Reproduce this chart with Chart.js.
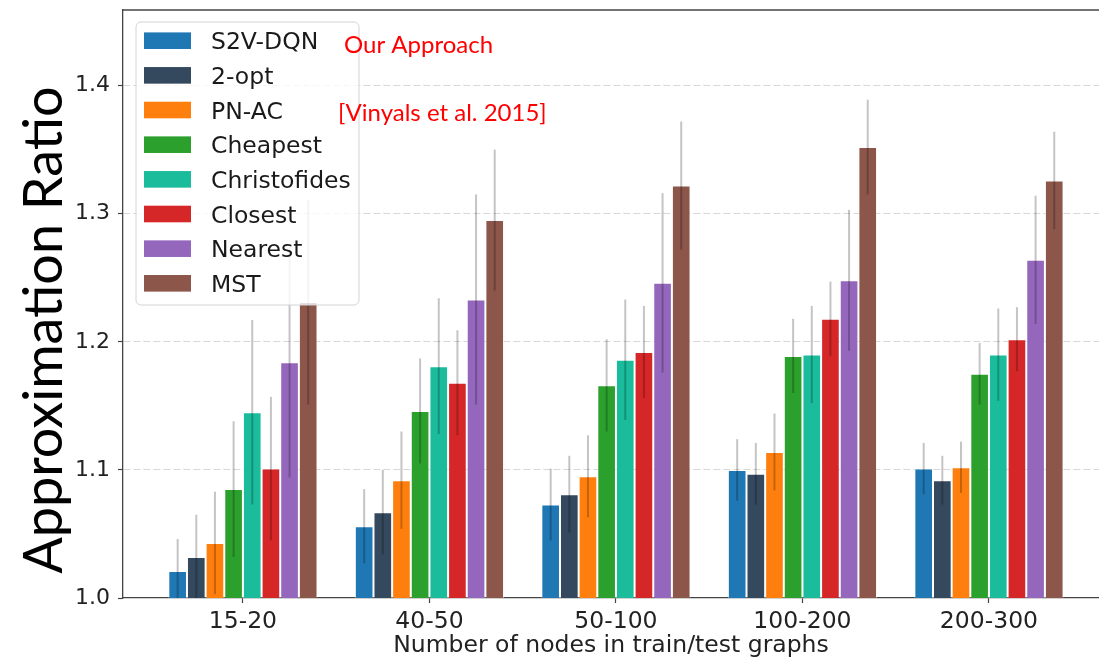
<!DOCTYPE html>
<html>
<head>
<meta charset="utf-8">
<script src="https://cdn.jsdelivr.net/npm/chart.js@4/dist/chart.umd.min.js"></script>
<style>
  html, body { margin: 0; padding: 0; background: #ffffff; overflow: hidden; }
  #c { display: block; }
</style>
</head>
<body>
<canvas id="c" width="1099" height="659"></canvas>
<script>
// Graph size buckets (x axis)
const categories = ['15-20', '40-50', '50-100', '100-200', '200-300'];

// Mean approximation ratio per method, one value per bucket
const s2vDqn       = [1.021, 1.056, 1.073, 1.100, 1.101];
const twoOpt       = [1.032, 1.067, 1.081, 1.097, 1.092];
const pnAc         = [1.043, 1.092, 1.095, 1.114, 1.102];
const cheapest     = [1.085, 1.146, 1.166, 1.189, 1.175];
const christofides = [1.145, 1.181, 1.186, 1.190, 1.190];
const closest      = [1.101, 1.168, 1.192, 1.218, 1.202];
const nearest      = [1.184, 1.233, 1.246, 1.248, 1.264];
const mst          = [1.231, 1.295, 1.322, 1.352, 1.326];

// Half-width of the error bar for each mean above
const s2vDqnErr       = [0.025, 0.029, 0.028, 0.024, 0.020];
const twoOptErr       = [0.033, 0.033, 0.030, 0.024, 0.019];
const pnAcErr         = [0.040, 0.038, 0.032, 0.030, 0.020];
const cheapestErr     = [0.053, 0.041, 0.036, 0.029, 0.024];
const christofidesErr = [0.072, 0.053, 0.047, 0.038, 0.036];
const closestErr      = [0.056, 0.041, 0.036, 0.029, 0.025];
const nearestErr      = [0.090, 0.082, 0.070, 0.055, 0.050];
const mstErr          = [0.080, 0.055, 0.050, 0.037, 0.038];

const methodNames = ['S2V-DQN', '2-opt', 'PN-AC', 'Cheapest', 'Christofides', 'Closest', 'Nearest', 'MST'];
const methodMeans = [s2vDqn, twoOpt, pnAc, cheapest, christofides, closest, nearest, mst];
const methodErrs  = [s2vDqnErr, twoOptErr, pnAcErr, cheapestErr, christofidesErr, closestErr, nearestErr, mstErr];
const methodColors = ['#1f77b4', '#34495e', '#ff7f0e', '#2ca02c', '#1abc9c', '#d62728', '#9467bd', '#8c564b'];

// Y axis tick range
const yMin = 1.0, yMax = 1.459, yStep = 0.1;

const tickFont = "'DejaVu Sans', sans-serif";
const noteFont = "Lato, 'Open Sans', sans-serif";

const datasets = methodNames.map((name, k) => ({
  label: name,
  data: methodMeans[k].map((v, i) => ({ x: i, y: v })),
  errors: methodErrs[k],
  backgroundColor: methodColors[k],
  borderColor: 'rgba(255,255,255,0.45)',
  borderWidth: 1,
  categoryPercentage: 0.8,
  barPercentage: 1.0
}));

// Vertical error lines through each bar
const errorBars = {
  id: 'errorBars',
  afterDatasetsDraw(chart) {
    const { ctx, chartArea: a, scales: { y } } = chart;
    ctx.save();
    ctx.beginPath();
    ctx.rect(a.left, a.top, a.right - a.left, a.bottom - a.top);
    ctx.clip();
    ctx.strokeStyle = 'rgba(0,0,0,0.23)';
    ctx.lineWidth = 2;
    chart.data.datasets.forEach((ds, k) => {
      const meta = chart.getDatasetMeta(k);
      meta.data.forEach((bar, i) => {
        const m = ds.data[i].y, e = ds.errors[i];
        ctx.beginPath();
        ctx.moveTo(bar.x, y.getPixelForValue(m + e));
        ctx.lineTo(bar.x, y.getPixelForValue(m - e));
        ctx.stroke();
      });
    });
    ctx.restore();
  }
};

// Top frame line, boxed legend, notes and the y axis title
const decorations = {
  id: 'decorations',
  afterDraw(chart) {
    const { ctx, chartArea: a } = chart;
    ctx.save();
    // top spine
    ctx.strokeStyle = '#444';
    ctx.lineWidth = 1.3;
    ctx.beginPath();
    ctx.moveTo(a.left, a.top);
    ctx.lineTo(a.right, a.top);
    ctx.stroke();

    // legend box
    const bx = 136, by = 22, bw = 223, bh = 283, r = 5;
    ctx.beginPath();
    ctx.moveTo(bx + r, by);
    ctx.arcTo(bx + bw, by, bx + bw, by + bh, r);
    ctx.arcTo(bx + bw, by + bh, bx, by + bh, r);
    ctx.arcTo(bx, by + bh, bx, by, r);
    ctx.arcTo(bx, by, bx + bw, by, r);
    ctx.closePath();
    ctx.fillStyle = 'rgba(255,255,255,0.8)';
    ctx.fill();
    ctx.strokeStyle = '#d4d4d4';
    ctx.lineWidth = 1;
    ctx.stroke();

    ctx.font = "23.5px " + tickFont;
    ctx.textAlign = 'left';
    ctx.textBaseline = 'alphabetic';
    chart.data.datasets.forEach((ds, k) => {
      const cy = 40.7 + k * 34.66;
      ctx.fillStyle = ds.backgroundColor;
      ctx.fillRect(144, cy - 8.3, 47, 16.6);
      ctx.fillStyle = '#1a1a1a';
      ctx.fillText(ds.label, 211, cy + 8.6);
    });

    // notes
    ctx.fillStyle = '#ff0000';
    ctx.font = "24px " + noteFont;
    ctx.fillText('Our Approach', 344, 53);
    ctx.fillText('[Vinyals et al. 2015]', 338, 121);

    // y axis title
    ctx.translate(45, 330);
    ctx.rotate(-Math.PI / 2);
    ctx.fillStyle = '#000';
    ctx.font = "54px " + noteFont;
    ctx.textAlign = 'center';
    ctx.textBaseline = 'middle';
    ctx.fillText('Approximation Ratio', 0, 0);
    ctx.restore();
  }
};

new Chart(document.getElementById('c'), {
  type: 'bar',
  data: { datasets },
  plugins: [errorBars, decorations],
  options: {
    responsive: false,
    animation: false,
    events: [],
    layout: { padding: { top: 10, left: 0, right: 0, bottom: 0 } },
    plugins: { legend: { display: false }, tooltip: { enabled: false } },
    scales: {
      x: {
        type: 'linear',
        min: -0.643,
        max: 4.59,
        offset: false,
        afterFit(s) { s.height = 61; s.paddingLeft = 0; s.paddingRight = 0; },
        grid: {
          display: true, drawOnChartArea: false, drawTicks: true, offset: false,
          tickLength: 5, color: '#444', tickColor: '#444', tickWidth: 1.2
        },
        border: { display: true, color: '#444', width: 1.3 },
        ticks: {
          stepSize: 1, includeBounds: false, autoSkip: false, maxRotation: 0,
          color: '#222', padding: 5,
          font: { family: tickFont, size: 23.5 },
          callback: (v) => (Number.isInteger(v) && categories[v] !== undefined) ? categories[v] : ''
        },
        title: {
          display: true, text: 'Number of nodes in train/test graphs', color: '#222',
          font: { family: tickFont, size: 23.5, lineHeight: 1 },
          padding: { top: 0, bottom: 1 }
        }
      },
      y: {
        type: 'linear',
        min: yMin,
        max: yMax,
        beginAtZero: false,
        afterFit(s) { s.width = 123; s.paddingTop = 0; s.paddingBottom = 0; },
        grid: {
          color: (c) => (c.tick && Math.abs(c.tick.value - yMin) < 1e-9) ? 'rgba(0,0,0,0)' : '#d8d8d8',
          lineWidth: 1, drawTicks: true, tickLength: 5, tickColor: '#444', tickWidth: 1.2
        },
        border: { display: true, color: '#444', width: 1.3, dash: [7, 3] },
        ticks: {
          stepSize: yStep, includeBounds: false, color: '#222', padding: 8,
          font: { family: tickFont, size: 22 },
          callback: (v) => v.toFixed(1)
        }
      }
    }
  }
});
</script>
</body>
</html>
